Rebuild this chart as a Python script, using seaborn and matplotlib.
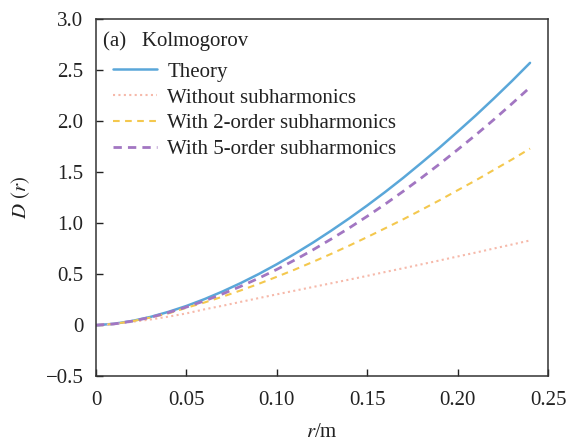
import matplotlib
matplotlib.use("Agg")
import matplotlib.pyplot as plt
import seaborn as sns
import pandas as pd

# Separation distance r (m)
r_vals = [0.00, 0.01, 0.02, 0.03, 0.04, 0.05, 0.06, 0.07, 0.08, 0.09, 0.10, 0.11, 0.12,
          0.13, 0.14, 0.15, 0.16, 0.17, 0.18, 0.19, 0.20, 0.21, 0.22, 0.23, 0.24]

# Phase structure function D(r)
theory = [0.000, 0.013, 0.041, 0.080, 0.130, 0.188, 0.255, 0.330, 0.412, 0.501, 0.597, 0.700, 0.809,
          0.925, 1.046, 1.173, 1.306, 1.445, 1.591, 1.740, 1.896, 2.055, 2.221, 2.392, 2.570]
without_sub = [0.000, 0.010, 0.033, 0.055, 0.083, 0.115, 0.155, 0.190, 0.228, 0.265, 0.302, 0.338, 0.374,
               0.410, 0.446, 0.483, 0.521, 0.558, 0.596, 0.634, 0.673, 0.711, 0.751, 0.790, 0.830]
with_2_order = [0.000, 0.012, 0.039, 0.074, 0.115, 0.170, 0.222, 0.279, 0.340, 0.405, 0.474, 0.545, 0.620,
                0.698, 0.779, 0.863, 0.950, 1.038, 1.130, 1.224, 1.322, 1.419, 1.521, 1.623, 1.730]
with_5_order = [0.000, 0.012, 0.039, 0.076, 0.123, 0.177, 0.238, 0.306, 0.380, 0.460, 0.546, 0.639, 0.738,
                0.843, 0.952, 1.067, 1.187, 1.313, 1.444, 1.579, 1.720, 1.864, 2.014, 2.170, 2.330]

series_names = ["Theory", "Without subharmonics",
                "With 2-order subharmonics", "With 5-order subharmonics"]
series_colors = ["#5aa7d9", "#f6b9aa", "#f4c84e", "#a276c2"]
series_dashes = [(None, None), (1, 1.6), (3.2, 2.6), (3.0, 2.2)]
series_widths = [1.8, 1.5, 1.5, 2.0]

sns.set_theme(style="ticks")
plt.rcParams["font.family"] = ["Liberation Serif", "DejaVu Serif"]
plt.rcParams["mathtext.fontset"] = "stix"

fig = plt.figure(figsize=(5.68, 4.41), dpi=100)
ax = fig.add_axes([0.169, 0.147, 0.796, 0.810])

for name, vals, col, dsh, lw in zip(series_names,
                                     [theory, without_sub, with_2_order, with_5_order],
                                     series_colors, series_dashes, series_widths):
    df = pd.DataFrame({"r": r_vals, "D": vals})
    sns.lineplot(data=df, x="r", y="D", ax=ax, color=col, linewidth=lw, label=name)
    if dsh[0] is not None:
        ax.lines[-1].set_dashes(dsh)

ax.set_xlim(0, 0.25)
ax.set_ylim(-0.5, 3.0)
x_ticks = [0, 0.05, 0.10, 0.15, 0.20, 0.25]
x_labels = ["0", "0.05", "0.10", "0.15", "0.20", "0.25"]
y_ticks = [-0.5, 0, 0.5, 1.0, 1.5, 2.0, 2.5, 3.0]
y_labels = ["\u22120.5", "0", "0.5", "1.0", "1.5", "2.0", "2.5", "3.0"]
ax.set_xticks(x_ticks)
ax.set_xticklabels(x_labels)
ax.set_yticks(y_ticks)
ax.set_yticklabels(y_labels)
ax.tick_params(axis="both", direction="in", length=5, width=1, labelsize=15,
               colors="#222222")
ax.tick_params(axis="x", pad=11)
ax.tick_params(axis="y", pad=9)

for sp in ax.spines.values():
    sp.set_visible(True)
    sp.set_color("#333333")
    sp.set_linewidth(1.1)

ax.set_xlabel("$r$/m", fontsize=15, labelpad=9, color="#222222")
ax.set_ylabel("$D\\ (r)$", fontsize=15, labelpad=10, color="#222222")

ax.text(0.016, 0.937, "(a)   Kolmogorov", transform=ax.transAxes, fontsize=15,
        ha="left", va="center", color="#222222")

leg = ax.legend(loc="upper left", bbox_to_anchor=(0.038, 0.879), frameon=False,
                fontsize=15, handlelength=2.1, handletextpad=0.5,
                labelspacing=0.3, borderaxespad=0, borderpad=0)
for t in leg.get_texts():
    t.set_color("#222222")

fig.savefig("out.png", dpi=100)
